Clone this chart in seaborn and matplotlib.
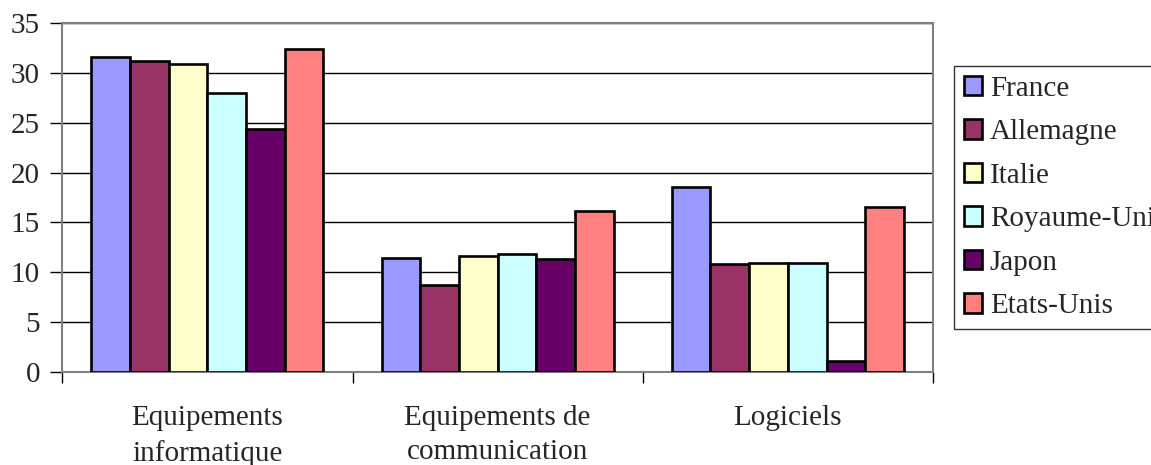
import pandas as pd
import matplotlib.pyplot as plt
import seaborn as sns

categories = ['Equipements\ninformatique', 'Equipements de\ncommunication', 'Logiciels']
pays = ['France', 'Allemagne', 'Italie', 'Royaume-Uni', 'Japon', 'Etats-Unis']

france = [31.6, 11.4, 18.6]
allemagne = [31.2, 8.7, 10.8]
italie = [30.9, 11.6, 10.9]
royaume_uni = [28.0, 11.8, 10.9]
japon = [24.4, 11.3, 1.1]
etats_unis = [32.4, 16.1, 16.5]

colors = ['#9999FF', '#993366', '#FFFFCC', '#CCFFFF', '#660066', '#FF8080']

series = [france, allemagne, italie, royaume_uni, japon, etats_unis]
rows = []
for p, vals in zip(pays, series):
    for c, v in zip(categories, vals):
        rows.append({'cat': c, 'pays': p, 'val': v})
df = pd.DataFrame(rows)

sns.set_style('white')
plt.rcParams['font.family'] = ['Liberation Serif', 'DejaVu Serif']

fs = 21

fig = plt.figure(figsize=(11.51, 4.65), dpi=100)
ax = fig.add_axes([0.0541, 0.2006, 0.7565, 0.7493])

sns.barplot(data=df, x='cat', y='val', hue='pays', palette=colors, ax=ax,
            width=0.8, saturation=1, edgecolor='black', linewidth=1.9,
            errorbar=None, zorder=3)

ax.set_ylim(0, 35)
ax.set_xlim(-0.5, 2.5)
ax.set_yticks(range(0, 36, 5))
ax.tick_params(axis='y', labelsize=fs, length=9, width=1, color='black', direction='out', left=True, pad=7)
ax.set_xticks([-0.5, 0.5, 1.5, 2.5], minor=False)
ax.set_xticklabels([])
ax.set_xticks([0, 1, 2], minor=True)
ax.set_xticklabels(categories, minor=True, fontsize=fs, linespacing=1.42)
ax.tick_params(axis='x', which='major', length=8, width=1, color='black', direction='out', bottom=True)
ax.tick_params(axis='x', which='minor', length=0, pad=24)
ax.set_xlabel('')
ax.set_ylabel('')

ax.yaxis.grid(True, color='black', linewidth=1)
ax.set_axisbelow(True)
for s in ax.spines.values():
    s.set_visible(True)
    s.set_color('#808080')
    s.set_linewidth(1.5)

handles, labels = ax.get_legend_handles_labels()
ax.legend_.remove()
leg = fig.legend(handles, labels, loc='upper left', bbox_to_anchor=(0.829, 0.857),
                 frameon=True, fancybox=False, edgecolor='black', fontsize=fs,
                 handlelength=0.65, handleheight=0.65, handletextpad=0.25,
                 labelspacing=0.6, borderpad=0.32, borderaxespad=0)
leg.get_frame().set_linewidth(1)

fig.savefig('out.png', dpi=100)
